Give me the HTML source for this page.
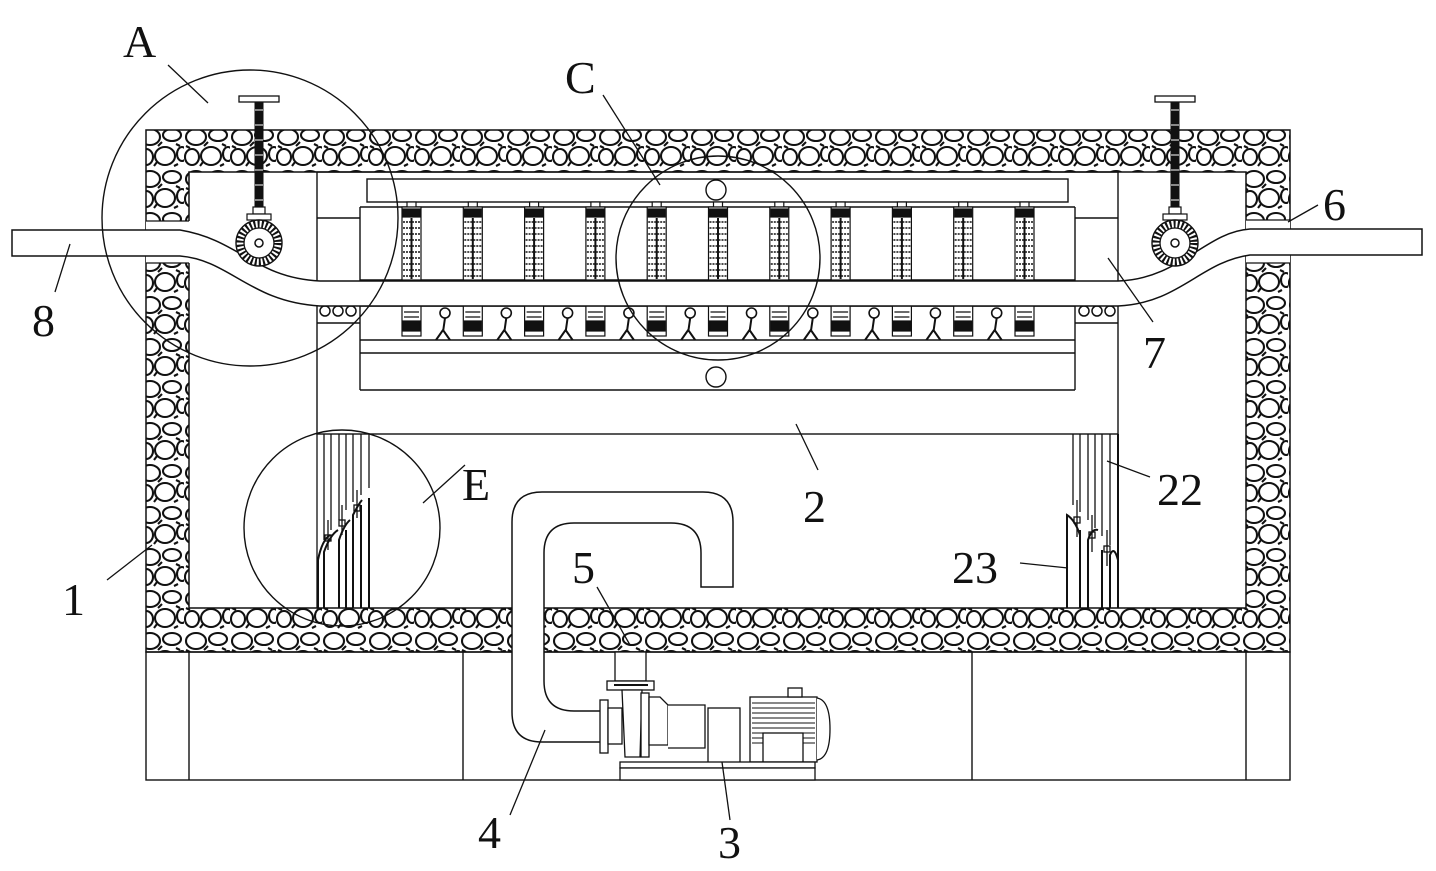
<!DOCTYPE html>
<html><head><meta charset="utf-8"><style>
html,body{margin:0;padding:0;background:#fff;}
svg{display:block;}
text{font-family:"Liberation Serif",serif;font-size:46px;fill:#111;}
</style></head><body>
<svg width="1436" height="871" viewBox="0 0 1436 871" xmlns="http://www.w3.org/2000/svg">
<defs>
<pattern id="st" width="46" height="42" patternUnits="userSpaceOnUse">
<rect width="46" height="42" fill="#fff"/>
<g fill="none" stroke="#111" stroke-width="2.1">
<ellipse cx="12" cy="11" rx="10" ry="8"/>
<ellipse cx="34" cy="9" rx="9" ry="6"/>
<ellipse cx="8" cy="31" rx="7" ry="8"/>
<ellipse cx="27" cy="30" rx="10" ry="9"/>
<ellipse cx="44" cy="28" rx="5" ry="7"/>
<path d="M20 20 L24 16 M2 20 L6 22 M38 18 L42 20 M16 40 L19 36 M36 40 L40 38"/>
</g>
</pattern>
</defs>

<path d="M146 130 H1290 V652 H146 Z M189 172 V608 H1246 V172 Z" fill="url(#st)" fill-rule="evenodd" stroke="#111" stroke-width="1.5"/>
<rect x="146" y="221" width="44" height="42" fill="#fff"/>
<line x1="146" y1="221" x2="189" y2="221" stroke="#111" stroke-width="1.3"/>
<line x1="146" y1="263" x2="189" y2="263" stroke="#111" stroke-width="1.3"/>
<rect x="1246" y="220" width="44" height="43" fill="#fff"/>
<line x1="1246" y1="220" x2="1290" y2="220" stroke="#111" stroke-width="1.3"/>
<line x1="1246" y1="263" x2="1290" y2="263" stroke="#111" stroke-width="1.3"/>
<rect x="513" y="606" width="31" height="48" fill="#fff"/>

<g fill="none" stroke="#111" stroke-width="1.4">
<rect x="146" y="652" width="1144" height="128"/>
<line x1="189" y1="652" x2="189" y2="780"/>
<line x1="463" y1="652" x2="463" y2="780"/>
<line x1="972" y1="652" x2="972" y2="780"/>
<line x1="1246" y1="652" x2="1246" y2="780"/>

<rect x="317" y="172" width="801" height="262"/>
<line x1="360" y1="207" x2="360" y2="390"/>
<line x1="1075" y1="207" x2="1075" y2="390"/>
<line x1="317" y1="218" x2="360" y2="218"/>
<line x1="1075" y1="218" x2="1118" y2="218"/>
<line x1="317" y1="323" x2="360" y2="323"/>
<line x1="1075" y1="323" x2="1118" y2="323"/>
<rect x="367" y="179" width="701" height="23"/>
<line x1="360" y1="207" x2="1075" y2="207"/>
<line x1="360" y1="280" x2="1075" y2="280"/>
<line x1="360" y1="306" x2="1075" y2="306"/>
<line x1="360" y1="340" x2="1075" y2="340"/>
<line x1="360" y1="353" x2="1075" y2="353"/>
<line x1="360" y1="390" x2="1075" y2="390"/>
<circle cx="716" cy="190" r="10" fill="#fff"/>
<circle cx="716" cy="377" r="10" fill="#fff"/>
</g>

<g id="cols" stroke="#111" stroke-width="1.2">
<g id="col">
<rect x="407" y="202" width="9" height="5" fill="#fff"/>
<rect x="402" y="207" width="19" height="73" fill="#fff"/>
<rect x="403" y="209" width="17" height="8" fill="#111"/>
<path d="M403 222 H420 M403 228 H420 M403 234 H420 M403 240 H420 M403 246 H420 M403 252 H420 M403 258 H420 M403 264 H420 M403 270 H420 M403 276 H420" stroke-dasharray="2 1" stroke-width="1.6"/>
<line x1="411.5" y1="218" x2="411.5" y2="279" stroke-width="2"/>
<rect x="402" y="306" width="19" height="30" fill="#fff"/>
<path d="M404 312 H419 M404 317 H419"/>
<rect x="403" y="321" width="17" height="10" fill="#111"/>
</g>
</g>
<g stroke="#111" stroke-width="1.2" fill="#fff">
<use href="#col" x="61.3"/><use href="#col" x="122.6"/><use href="#col" x="183.9"/><use href="#col" x="245.2"/>
<use href="#col" x="306.5"/><use href="#col" x="367.8"/><use href="#col" x="429.1"/><use href="#col" x="490.4"/>
<use href="#col" x="551.7"/><use href="#col" x="613"/>
</g>
<g stroke="#111" stroke-width="1.6" fill="#fff">
<g id="fig"><circle cx="445" cy="313" r="5"/><path d="M445 318 L443 332 M436 340 L443 330 L450 340" fill="none" stroke-width="2"/></g>
<use href="#fig" x="61.3"/><use href="#fig" x="122.6"/><use href="#fig" x="183.9"/><use href="#fig" x="245.2"/>
<use href="#fig" x="306.5"/><use href="#fig" x="367.8"/><use href="#fig" x="429.1"/><use href="#fig" x="490.4"/>
<use href="#fig" x="551.7"/>
</g>
<g fill="none" stroke="#111" stroke-width="1.5">
<circle cx="325" cy="311" r="5"/><circle cx="338" cy="311" r="5"/><circle cx="351" cy="311" r="5"/>
<circle cx="1084" cy="311" r="5"/><circle cx="1097" cy="311" r="5"/><circle cx="1110" cy="311" r="5"/>
</g>

<path d="M12 230 H180 C240 240 255 278 320 281 H1118 C1180 279 1205 232 1250 229 H1422 V255 H1250 C1200 262 1180 303 1118 306 H320 C250 302 230 260 180 256 H12 Z" fill="#fff" stroke="#111" stroke-width="1.5"/>

<g id="adj" stroke="#111">
<rect x="239" y="96" width="40" height="6" fill="#fff" stroke-width="1.3"/>
<rect x="255" y="102" width="8" height="106" fill="#111"/>
<path d="M255 110 H263 M255 125 H263 M255 140 H263 M255 155 H263 M255 170 H263 M255 185 H263 M255 200 H263" stroke="#fff" stroke-width="1"/>
<rect x="253" y="207" width="12" height="7" fill="#fff" stroke-width="1.2"/>
<rect x="247" y="214" width="24" height="6" fill="#fff" stroke-width="1.2"/>
<circle cx="259" cy="243" r="23" fill="#fff" stroke-width="1.4"/>
<circle cx="259" cy="243" r="19" fill="none" stroke-width="7" stroke-dasharray="2 2"/>
<circle cx="259" cy="243" r="15" fill="#fff" stroke-width="1.3"/>
<circle cx="259" cy="243" r="4" fill="#fff" stroke-width="1.5"/>
</g>
<use href="#adj" x="916"/>

<g fill="none" stroke="#111" stroke-width="1.3">
<path d="M324 434 V540 M331 434 V530 M339 434 V520 M346 434 V510 M353 434 V502 M361 434 V495 M369 434 V488"/>
<path d="M318 608 V560 Q322 540 330 535 M324 608 V552 Q330 535 338 530 M339 608 V540 Q344 525 350 520 M346 608 V530 M353 608 V515 Q358 505 362 500 M361 608 V505 M369 608 V498" stroke-width="2"/>
<path d="M328 520 V550 M342 505 V535 M357 490 V518"/>
<rect x="325" y="535" width="6" height="6"/><rect x="339" y="520" width="6" height="6"/><rect x="354" y="505" width="6" height="6"/>
<path d="M1073 434 V505 M1080 434 V512 M1088 434 V520 M1095 434 V528 M1102 434 V536 M1110 434 V545"/>
<path d="M1067 608 V515 Q1075 520 1080 535 M1080 608 V530 M1088 608 V540 Q1092 528 1098 530 M1102 608 V550 M1110 608 V555 Q1114 545 1118 560 M1118 434 V608" stroke-width="2"/>
<path d="M1077 500 V537 M1092 515 V552 M1107 530 V566"/>
<rect x="1074" y="517" width="6" height="6"/><rect x="1089" y="532" width="6" height="6"/><rect x="1104" y="546" width="6" height="6"/>
<line x1="317" y1="434" x2="317" y2="608"/>
</g>

<path d="M542 742 Q512 742 512 712 V522 Q512 492 542 492 H703 Q733 492 733 522 V587 H701 V553 Q701 523 671 523 H574 Q544 523 544 553 V681 Q544 711 574 711 H601 V742 Z" fill="#fff" stroke="#111" stroke-width="1.5"/>

<g fill="#fff" stroke="#111" stroke-width="1.3">
<rect x="615" y="652" width="31" height="29"/>
<rect x="607" y="681" width="47" height="9"/>
<line x1="614" y1="685" x2="648" y2="685" stroke-width="2"/>
<rect x="600" y="700" width="8" height="53"/>
<rect x="608" y="708" width="14" height="36"/>
<path d="M622 690 L625 757 H640 L642 690 Z"/>
<rect x="641" y="693" width="8" height="64"/>
<path d="M649 697 H660 L668 705 V745 H649 Z"/>
<path d="M668 705 H705 V748 H668"/>
<rect x="708" y="708" width="32" height="59"/>
<rect x="750" y="697" width="67" height="65"/>
<path d="M817 698 Q830 700 830 729 Q830 758 817 760"/>
<rect x="788" y="688" width="14" height="9"/>
<path d="M752 703 H815 M752 708 H815 M752 713 H815 M752 718 H815 M752 723 H815 M752 728 H815 M752 733 H815 M752 738 H815 M752 743 H815" stroke-width="1"/>
<rect x="763" y="733" width="40" height="29"/>
<rect x="620" y="762" width="195" height="6"/>
<rect x="620" y="768" width="195" height="12"/>
</g>

<g fill="none" stroke="#111" stroke-width="1.4">
<circle cx="250" cy="218" r="148"/>
<circle cx="718" cy="258" r="102"/>
<circle cx="342" cy="528" r="98"/>
</g>

<g stroke="#111" stroke-width="1.3">
<line x1="168" y1="65" x2="208" y2="103"/>
<line x1="603" y1="95" x2="660" y2="185"/>
<line x1="1318" y1="205" x2="1288" y2="222"/>
<line x1="55" y1="292" x2="70" y2="244"/>
<line x1="1153" y1="322" x2="1108" y2="258"/>
<line x1="818" y1="470" x2="796" y2="424"/>
<line x1="465" y1="465" x2="423" y2="503"/>
<line x1="1150" y1="477" x2="1107" y2="461"/>
<line x1="1020" y1="563" x2="1068" y2="568"/>
<line x1="597" y1="587" x2="630" y2="645"/>
<line x1="107" y1="580" x2="152" y2="545"/>
<line x1="510" y1="815" x2="545" y2="730"/>
<line x1="730" y1="820" x2="722" y2="762"/>
</g>

<text x="123" y="57">A</text>
<text x="565" y="93">C</text>
<text x="1323" y="220">6</text>
<text x="32" y="336">8</text>
<text x="1143" y="368">7</text>
<text x="803" y="522">2</text>
<text x="462" y="500">E</text>
<text x="1157" y="505">22</text>
<text x="952" y="583">23</text>
<text x="572" y="583">5</text>
<text x="62" y="615">1</text>
<text x="478" y="848">4</text>
<text x="718" y="858">3</text>
</svg>
</body></html>
